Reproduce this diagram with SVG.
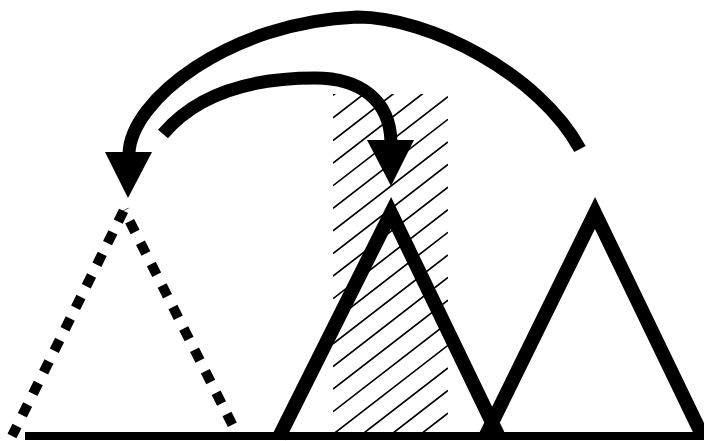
<svg xmlns="http://www.w3.org/2000/svg" width="704" height="441" viewBox="0 0 704 441">
<style>
.solid{fill:none;stroke:#000;stroke-width:14;stroke-linejoin:miter;stroke-miterlimit:10}
.dash{fill:none;stroke:#000;stroke-width:10;stroke-dasharray:12 12}
.arc{fill:none;stroke:#000;stroke-width:13}
.head{fill:#000}
.hatch{fill:none;stroke:#000;stroke-width:1.7}
</style>
<defs>
<clipPath id="hc"><rect x="333" y="94" width="115" height="340"/></clipPath>
</defs>
<rect width="704" height="441" fill="#fff"/>
<g id="hatched-region" clip-path="url(#hc)">
<path class="hatch" d="M333,95.3L448,6.3M333,117.9L448,28.9M333,140.5L448,51.5M333,163.1L448,74.1M333,185.7L448,96.7M333,208.3L448,119.3M333,230.9L448,141.9M333,253.5L448,164.5M333,276.1L448,187.1M333,298.7L448,209.7M333,321.3L448,232.3M333,343.9L448,254.9M333,366.5L448,277.5M333,389.1L448,300.1M333,411.7L448,322.7M333,434.3L448,345.3M333,456.9L448,367.9M333,479.5L448,390.5M333,502.1L448,413.1M333,524.7L448,435.7"/>
</g>
<g id="baseline">
<line x1="25" y1="436" x2="704" y2="436" stroke="#000" stroke-width="8"/>
</g>
<g id="dashed-triangle">
<line class="dash" x1="124" y1="210" x2="12" y2="436" stroke-dashoffset="23"/>
<line class="dash" x1="124" y1="210" x2="238" y2="436" stroke-dashoffset="11.4"/>
</g>
<g id="middle-triangle">
<polyline class="solid" points="279,437 391,213 499,437"/>
</g>
<g id="right-triangle">
<polyline class="solid" points="485,437 595,213 703,437"/>
</g>
<g id="connectors">
<path class="arc" d="M580,149 C540,75 430,17 357,17 C230,22 130,100 129,154"/>
<polygon class="head" points="105,152 152,152 128,198"/>
<path class="arc" d="M163,134 C200,90 260,78 315,78 C360,78 390,100 391,142"/>
<polygon class="head" points="367,140 414,140 391,186"/>
</g>
</svg>
